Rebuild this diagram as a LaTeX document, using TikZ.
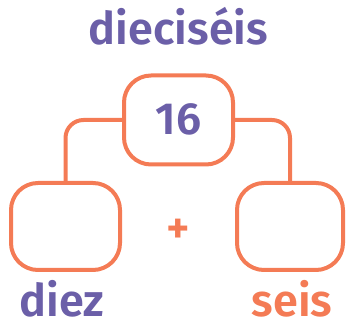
\documentclass[tikz,border=0pt]{standalone}
\usepackage{fontspec}
\setmainfont{Fira Sans}[BoldFont={* SemiBold}]
\definecolor{boxorange}{HTML}{F47B55}
\definecolor{wordpurple}{HTML}{6B5FA8}
\tikzset{
  numbox/.style={draw=boxorange, line width=4pt, rounded corners=27pt, inner sep=0pt},
  link/.style={draw=boxorange, line width=4pt, rounded corners=18pt},
  word/.style={anchor=base, inner sep=0pt, font=\fontsize{45}{45}\selectfont\bfseries}
}
\begin{document}
\begin{tikzpicture}[x=1pt, y=-1pt]
  \useasboundingbox (0,0) rectangle (346,328);

  \node[numbox, minimum width=109pt, minimum height=89pt] (total) at (178.5,120) {};
  \node[numbox, minimum width=109pt, minimum height=87pt] (tens) at (65.5,226.5) {};
  \node[numbox, minimum width=106pt, minimum height=87pt] (ones) at (290,226.5) {};

  \draw[link] (total) -| (tens);
  \draw[link] (total) -| (ones);

  \node[word, text=wordpurple] (number) at (178.5,135) {16};
  \node[word, text=boxorange, anchor=center] (plus) at (178,231) {+};
  \node[word, text=wordpurple] (name) at (178.5,45) {dieciséis};
  \node[word, text=wordpurple] (tensname) at (62,317) {diez};
  \node[word, text=boxorange] (onesname) at (292,317) {seis};
\end{tikzpicture}
\end{document}
